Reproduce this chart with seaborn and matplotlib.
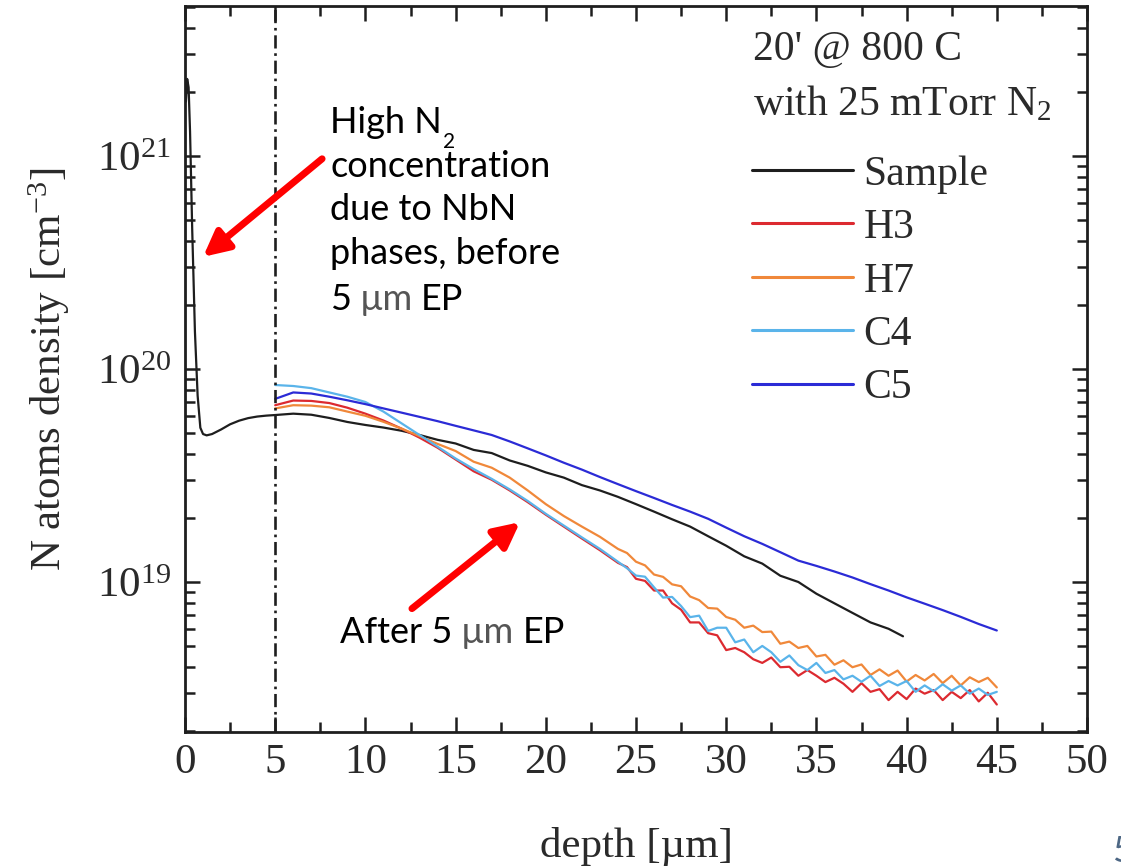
import matplotlib
matplotlib.use("Agg")
import matplotlib.pyplot as plt
from matplotlib.lines import Line2D
from matplotlib.ticker import LogLocator, MultipleLocator, NullFormatter
import numpy as np
import pandas as pd
import seaborn as sns

# ---------------------------------------------------------------- data
# densities are given in units of 1e19 atoms / cm^3
series_names = ["Sample", "H3", "H7", "C4", "C5"]

sample_depth = [0.05, 0.12, 0.2, 0.28, 0.4, 0.55, 0.7, 0.85, 1.0, 1.2, 1.5,
                2.0, 2.5, 3.0, 3.5, 4.0, 4.5,
                5, 6, 7, 8, 9, 10, 11, 12, 13, 14, 15, 16, 17, 18, 19, 20,
                21, 22, 23, 24, 25, 26, 27, 28, 29, 30, 31, 32, 33, 34, 35,
                36, 37, 38, 39, 39.8]
sample_density = [180, 230, 210, 130, 45, 15, 7.5, 5.3, 4.95, 4.88, 4.95,
                  5.2, 5.5, 5.72, 5.88, 5.98, 6.04,
                  6.08, 6.17, 6.10, 5.89, 5.64, 5.46, 5.31, 5.13, 4.90, 4.65,
                  4.47, 4.17, 4.03, 3.72, 3.51, 3.27, 3.09, 2.85, 2.69, 2.51,
                  2.32, 2.14, 1.97, 1.82, 1.64, 1.48, 1.32, 1.22, 1.07, 1.00,
                  0.881, 0.794, 0.716, 0.646, 0.603, 0.556]

c5_depth = [5, 6, 7, 8, 9, 10, 11, 12, 13, 14, 15, 16, 17, 18, 19, 20, 21,
            22, 23, 24, 25, 26, 27, 28, 29, 30, 31, 32, 33, 34, 35, 36, 37,
            38, 39, 40, 41, 42, 43, 44, 45]
c5_density = [7.24, 7.76, 7.67, 7.41, 7.13, 6.84, 6.53, 6.24, 5.96, 5.69,
              5.41, 5.15, 4.90, 4.57, 4.24, 3.93, 3.63, 3.37, 3.11, 2.88,
              2.67, 2.48, 2.30, 2.14, 1.98, 1.80, 1.64, 1.51, 1.38, 1.26,
              1.19, 1.12, 1.05, 0.977, 0.912, 0.847, 0.791, 0.738, 0.686,
              0.635, 0.592]

# treated samples share one depth grid (coarse near the surface, finer in the tail)
ep_depth = [5, 6, 7, 8, 9, 10, 11, 12, 13, 14, 15, 16, 17, 18, 19, 20, 21,
            22, 23, 24, 24.5, 25, 25.5, 26, 26.5, 27, 27.5, 28, 28.5, 29,
            29.5, 30, 30.5, 31, 31.5, 32, 32.5, 33, 33.5, 34, 34.5, 35, 35.5,
            36, 36.5, 37, 37.5, 38, 38.5, 39, 39.5, 40, 40.5, 41, 41.5, 42,
            42.5, 43, 43.5, 44, 44.5, 45]

h3_density = [6.76, 7.11, 7.08, 6.92, 6.58, 6.17, 5.73, 5.25, 4.76, 4.27,
              3.76, 3.31, 3.02, 2.69, 2.37, 2.07, 1.82, 1.60, 1.41, 1.23,
              1.175, 1.035, 1.012, 0.912, 0.912, 0.794, 0.741, 0.646, 0.646,
              0.575, 0.562, 0.479, 0.490, 0.468, 0.434, 0.417, 0.442, 0.398,
              0.400, 0.363, 0.386, 0.363, 0.339, 0.355, 0.333, 0.305, 0.335,
              0.305, 0.314, 0.279, 0.305, 0.282, 0.316, 0.299, 0.311, 0.279,
              0.305, 0.285, 0.311, 0.275, 0.302, 0.266]

h7_density = [6.53, 6.76, 6.73, 6.61, 6.31, 6.03, 5.65, 5.25, 4.84, 4.45,
              4.12, 3.67, 3.44, 3.09, 2.69, 2.32, 2.04, 1.82, 1.63, 1.43,
              1.368, 1.245, 1.197, 1.084, 1.057, 0.975, 0.955, 0.855, 0.822,
              0.755, 0.750, 0.685, 0.665, 0.610, 0.624, 0.582, 0.585, 0.513,
              0.525, 0.490, 0.501, 0.447, 0.455, 0.409, 0.429, 0.398, 0.410,
              0.366, 0.389, 0.363, 0.384, 0.341, 0.366, 0.345, 0.370, 0.335,
              0.363, 0.327, 0.357, 0.339, 0.355, 0.320]

c4_density = [8.41, 8.32, 8.13, 7.76, 7.41, 7.00, 6.31, 5.56, 4.90, 4.32,
              3.80, 3.39, 3.05, 2.72, 2.40, 2.09, 1.84, 1.62, 1.43, 1.245,
              1.161, 1.072, 1.059, 0.944, 0.845, 0.851, 0.771, 0.684, 0.695,
              0.589, 0.610, 0.610, 0.521, 0.537, 0.468, 0.501, 0.468, 0.422,
              0.452, 0.407, 0.386, 0.417, 0.374, 0.386, 0.349, 0.363, 0.340,
              0.363, 0.325, 0.343, 0.327, 0.343, 0.305, 0.327, 0.307, 0.331,
              0.309, 0.327, 0.299, 0.316, 0.295, 0.305]

UNIT = 1e19
ep_boundary = 5.0  # depth removed by electropolishing [um]

colors = {"Sample": "#1e1e1e", "H3": "#dc2a30", "H7": "#f0883a",
          "C4": "#5ab4ea", "C5": "#2b2bd6"}

frames = []
for name, d, v in [("Sample", sample_depth, sample_density),
                   ("H3", ep_depth, h3_density),
                   ("H7", ep_depth, h7_density),
                   ("C4", ep_depth, c4_density),
                   ("C5", c5_depth, c5_density)]:
    frames.append(pd.DataFrame({"series": name, "depth": d,
                                "density": np.asarray(v) * UNIT}))
df = pd.concat(frames, ignore_index=True)

# ---------------------------------------------------------------- style
sns.set_theme(style="ticks")
plt.rcParams["font.family"] = ["Liberation Serif", "DejaVu Serif"]
plt.rcParams["mathtext.fontset"] = "custom"
plt.rcParams["mathtext.rm"] = "Liberation Serif"
plt.rcParams["mathtext.it"] = "Liberation Serif:italic"
plt.rcParams["mathtext.bf"] = "Liberation Serif:bold"
plt.rcParams["axes.linewidth"] = 2.0

W, H = 1121, 867
fig = plt.figure(figsize=(W / 100, H / 100), dpi=100)
ax = fig.add_axes([185 / W, 1 - 732 / H, 902 / W, 726 / H])
ax.set_yscale("log")

sns.lineplot(data=df, x="depth", y="density", hue="series",
             hue_order=series_names, palette=colors, estimator=None,
             sort=False, lw=1.6, legend=False, ax=ax)

ax.axvline(ep_boundary, color="#1e1e1e", lw=1.9, ls=(0, (5, 1.8, 1, 1.8)))

ax.set_xlim(0, 50)
ax.set_ylim(1.976e18, 5.06e21)
ax.xaxis.set_major_locator(MultipleLocator(5))
ax.xaxis.set_minor_locator(MultipleLocator(2.5))
ax.yaxis.set_major_locator(LogLocator(base=10, numticks=10))
ax.yaxis.set_minor_locator(LogLocator(base=10, subs=np.arange(2, 10), numticks=40))
ax.yaxis.set_minor_formatter(NullFormatter())

for s in ax.spines.values():
    s.set_color("#1e1e1e")
ax.tick_params(which="both", direction="in", top=True, right=True,
               color="#1e1e1e", width=1.8, labelcolor="#2a2a2a")
ax.tick_params(which="major", length=11, labelsize=31)
ax.tick_params(which="minor", length=7)
ax.tick_params(axis="x", which="major", pad=8)
ax.tick_params(axis="y", which="major", pad=10)

ax.set_xlabel("depth [\u00b5m]", fontsize=31, color="#2a2a2a", labelpad=33)
ax.set_ylabel("N atoms density [cm$^{-3}$]", fontsize=31, color="#2a2a2a",
              labelpad=18)

# ---------------------------------------------------------------- legend
fig.text(753 / W, 1 - 60 / H, "20' @ 800 C", fontsize=30, color="#2a2a2a",
         va="baseline", ha="left")
fig.text(753 / W, 1 - 115 / H, "with 25 mTorr N$_2$", fontsize=30,
         color="#2a2a2a", va="baseline", ha="left")

handles = [Line2D([], [], color=colors[n], lw=2.2) for n in series_names]
leg = ax.legend(handles, series_names, loc="upper left",
                bbox_to_anchor=(752 / W, 1 - 155 / H),
                bbox_transform=fig.transFigure, frameon=False, fontsize=30,
                borderpad=0, borderaxespad=0, handlelength=2.43,
                handletextpad=0.25, labelspacing=0.36)
for t in leg.get_texts():
    t.set_color("#2a2a2a")

# ---------------------------------------------------------------- notes
note_font = dict(family=["Lato", "DejaVu Sans"], fontsize=26, color="black")
grey = "#555555"


def fig_xy(px, py):
    return px / W, 1 - py / H


def chain(prev, text, color, gap=6):
    return ax.annotate(text, xy=(1, 0), xycoords=prev, xytext=(gap, 0),
                       textcoords="offset points", va="bottom", ha="left",
                       **{**note_font, "color": color})


t = fig.text(*fig_xy(330, 133), "High N", va="baseline", ha="left", **note_font)
ax.annotate("2", xy=(1, 0), xycoords=t, xytext=(1, 5),
            textcoords="offset points", va="top", ha="left",
            **{**note_font, "fontsize": 15})
for py, line in [(177, "concentration"), (220, "due to NbN"),
                 (264, "phases, before")]:
    fig.text(*fig_xy(330, py), line, va="baseline", ha="left", **note_font)
t = fig.text(*fig_xy(330, 310), "5", va="baseline", ha="left", **note_font)
t = chain(t, "\u00b5m", grey)
chain(t, "EP", "black")

t = fig.text(*fig_xy(340, 643), "After 5", va="baseline", ha="left", **note_font)
t = chain(t, "\u00b5m", grey)
chain(t, "EP", "black")

arrow = dict(arrowstyle="-|>", color="#ff0000", lw=5, mutation_scale=38,
             shrinkA=0, shrinkB=0)
ax.annotate("", xy=(1.0, 3.36e20), xytext=(7.6, 9.7e20), arrowprops=arrow)
ax.annotate("", xy=(18.57, 1.91e19), xytext=(12.58, 7.5e18), arrowprops=arrow)

fig.text(*fig_xy(1112, 862), "5", va="baseline", ha="left",
         **{**note_font, "color": "#4d6784"})

fig.savefig("out.png", dpi=100, facecolor="white")
